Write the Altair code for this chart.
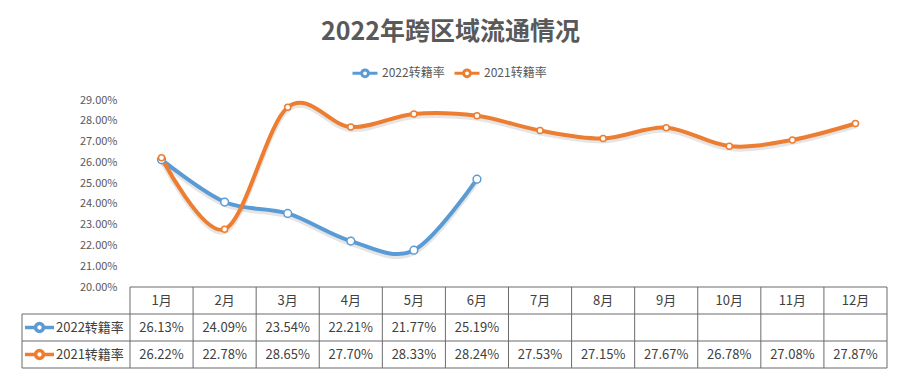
import altair as alt
import pandas as pd

# ---- data ----
months = ["1月", "2月", "3月", "4月", "5月", "6月", "7月", "8月", "9月", "10月", "11月", "12月"]
series_names = ["2022转籍率", "2021转籍率"]
rate_2022 = [26.13, 24.09, 23.54, 22.21, 21.77, 25.19]
rate_2021 = [26.22, 22.78, 28.65, 27.70, 28.33, 28.24, 27.53, 27.15, 27.67, 26.78, 27.08, 27.87]
y_ticks = [20, 21, 22, 23, 24, 25, 26, 27, 28, 29]
colors = ["#5B9BD5", "#ED7D31"]
marker_sizes = [60, 36]

FONT = "Noto Sans CJK SC"
TEXT_COLOR = "#404040"
GRID_COLOR = "#6b6b6b"
n = len(months)
LABEL_COLS = 1.712          # width of the table's label column, in month-column units
TABLE_ROWS = 3
ROWS_IN_VIEW = 268 / 27     # plot height expressed in table rows

# ---- tidy tables built from the arrays ----
line_rows = []
for s, vals, sz in zip(series_names, [rate_2022, rate_2021], marker_sizes):
    for i, v in enumerate(vals):
        line_rows.append({"series": s, "pos": i + 0.5, "value": v, "msize": sz})
line_df = pd.DataFrame(line_rows)

cell_rows = []
for i, m in enumerate(months):
    cell_rows.append({"pos": i + 0.5, "r": 0.5, "text": m})
for k, vals in enumerate([rate_2022, rate_2021]):
    for i, v in enumerate(vals):
        cell_rows.append({"pos": i + 0.5, "r": k + 1.5, "text": f"{v:.2f}%"})
cell_df = pd.DataFrame(cell_rows)

label_df = pd.DataFrame({"series": series_names, "x": [-LABEL_COLS] * 2,
                         "r": [k + 1.5 for k in range(len(series_names))]})

h_rows = [{"x": 0, "x2": n, "r": 0}] + [{"x": -LABEL_COLS, "x2": n, "r": k} for k in range(1, TABLE_ROWS + 1)]
v_rows = [{"x": -LABEL_COLS, "r": 1, "r2": TABLE_ROWS}] + [{"x": i, "r": 0, "r2": TABLE_ROWS} for i in range(n + 1)]
h_df = pd.DataFrame(h_rows)
v_df = pd.DataFrame(v_rows)

# ---- scales ----
x_scale = alt.Scale(domain=[-LABEL_COLS, n], nice=False, zero=False)
y_scale = alt.Scale(domain=[29 - 12.898, 29], nice=False, zero=False)
t_scale = alt.Scale(domain=[TABLE_ROWS - ROWS_IN_VIEW, TABLE_ROWS], reverse=True, nice=False, zero=False)
color_scale = alt.Scale(domain=series_names, range=colors)

sym = "M-1,0H-0.27M0.27,0H1M0.27,0A0.27,0.27 0 1,1 -0.27,0A0.27,0.27 0 1,1 0.27,0Z"

x_enc = alt.X("pos:Q", scale=x_scale, axis=None)
y_axis = alt.Axis(values=y_ticks, labelExpr="format(datum.value,'.2f')+'%'", domain=False, ticks=False,
                  grid=False, offset=-108, labelPadding=13, labelFontSize=11, labelColor="#595959",
                  labelFont=FONT, title=None)

base = alt.Chart(line_df)
shadow = base.mark_line(interpolate="cardinal", strokeWidth=5, color="black", opacity=0.1, yOffset=2.5).encode(
    x=x_enc, y=alt.Y("value:Q", scale=y_scale, axis=y_axis), detail="series:N")
lines = base.mark_line(interpolate="cardinal", strokeWidth=4).encode(
    x=x_enc, y=alt.Y("value:Q", scale=y_scale, axis=y_axis),
    color=alt.Color("series:N", scale=color_scale, sort=series_names,
                    legend=alt.Legend(orient="none", legendX=329, legendY=-41, direction="horizontal",
                                      title=None, symbolType=sym, symbolSize=625, symbolStrokeWidth=3,
                                      symbolFillColor="white", labelFontSize=12, labelColor="#595959",
                                      labelFont=FONT, columnPadding=3, labelOffset=3)))
points = base.mark_point(shape="circle", fill="white", fillOpacity=1, opacity=1, strokeWidth=1.5).encode(
    x=x_enc, y=alt.Y("value:Q", scale=y_scale, axis=y_axis),
    stroke=alt.Stroke("series:N", scale=color_scale, legend=None),
    size=alt.Size("msize:Q", scale=None, legend=None))

plot = alt.layer(shadow, lines, points)

h_rules = alt.Chart(h_df).mark_rule(color=GRID_COLOR, strokeWidth=1).encode(
    x=alt.X("x:Q", scale=x_scale, axis=None), x2="x2:Q", y=alt.Y("r:Q", scale=t_scale, axis=None))
v_rules = alt.Chart(v_df).mark_rule(color=GRID_COLOR, strokeWidth=1).encode(
    x=alt.X("x:Q", scale=x_scale, axis=None), y=alt.Y("r:Q", scale=t_scale, axis=None), y2="r2:Q")
cells = alt.Chart(cell_df).mark_text(font=FONT, fontSize=13, color=TEXT_COLOR, align="center",
                                     baseline="middle").encode(
    x=alt.X("pos:Q", scale=x_scale, axis=None), y=alt.Y("r:Q", scale=t_scale, axis=None), text="text:N")
row_keys = alt.Chart(label_df).mark_point(shape=sym, size=841, strokeWidth=3.5, fill="white", fillOpacity=1,
                                          opacity=1, xOffset=17.5).encode(
    x=alt.X("x:Q", scale=x_scale, axis=None), y=alt.Y("r:Q", scale=t_scale, axis=None),
    stroke=alt.Stroke("series:N", scale=color_scale, legend=None))
row_labels = alt.Chart(label_df).mark_text(font=FONT, fontSize=13, color=TEXT_COLOR, align="left",
                                           baseline="middle", dx=34).encode(
    x=alt.X("x:Q", scale=x_scale, axis=None), y=alt.Y("r:Q", scale=t_scale, axis=None), text="series:N")

table = alt.layer(h_rules, v_rules, cells, row_keys, row_labels)

chart = alt.layer(plot, table).resolve_scale(y="independent").properties(
    width=865, height=268,
    padding={"left": 22, "top": 100, "right": 15, "bottom": 8},
    autosize=alt.AutoSizeParams(type="none"),
    title=alt.TitleParams("2022年跨区域流通情况", fontSize=25, fontWeight="bold", color="#595959",
                          font=FONT, anchor="middle", offset=14, dx=-4),
).configure(background="white").configure_view(stroke=None)

chart.save("out.html", embed_options={"renderer": "svg", "actions": False})
